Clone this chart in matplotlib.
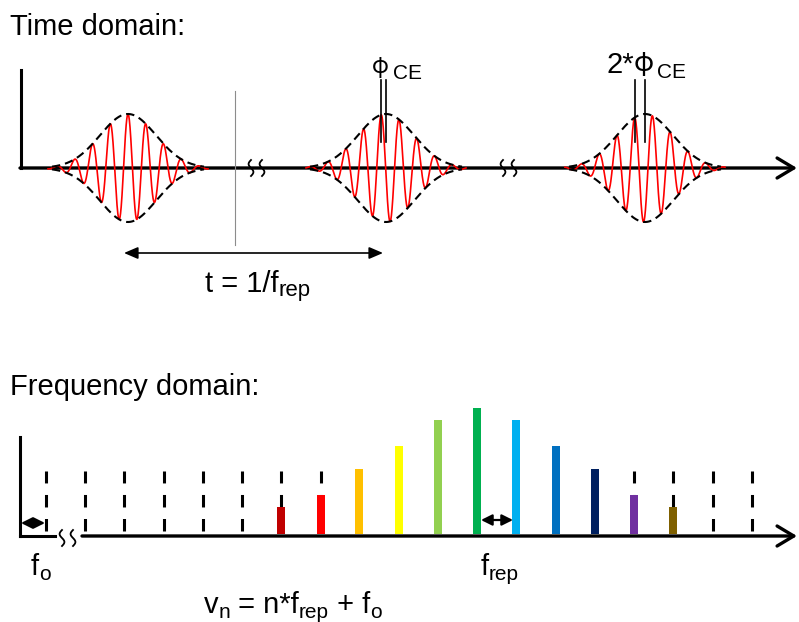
import numpy as np
import matplotlib.pyplot as plt

plt.rcParams['font.family'] = ['Liberation Sans', 'DejaVu Sans']
plt.rcParams['lines.scale_dashes'] = False

# time domain: pulse train
pulse_centers = [128, 386, 645]      # envelope centres
ce_shift = [0, -4.8, -10.4]          # carrier peak offset from envelope centre
pulse_amp = 54
pulse_sigma = 28
carrier_period = 17.8

# frequency domain: comb
comb_x = [46, 85, 124, 164, 203, 242, 281, 321, 359, 399, 438, 477, 516, 556, 595, 634, 673, 713, 752]
bar_x = [281, 321, 359, 399, 438, 477, 516, 556, 595, 634, 673]
bar_h = [27, 39, 65, 88, 114, 126, 114, 88, 65, 39, 27]
bar_colors = ['#C00000', '#FF0000', '#FFC000', '#FFFF00', '#92D050', '#00B050',
              '#00B0F0', '#0070C0', '#002060', '#7030A0', '#7F6000']

T_AXIS = 168
F_AXIS = 536

fig = plt.figure(figsize=(7.99, 6.22), dpi=100)
ax = fig.add_axes([0, 0, 1, 1])
ax.set_xlim(0, 799)
ax.set_ylim(622, 0)
ax.axis('off')


def squiggle(x0, y0, h=8, a=2.4):
    yy = np.linspace(-h, h, 60)
    ax.plot(x0 + a * np.sin(np.pi * yy / h), y0 + yy, color='k', lw=1.3, zorder=6)


def rich(x, y, parts, size=21, subsize=15, drop=4.5):
    r = fig.canvas.get_renderer()
    for s, sub in parts:
        t = ax.text(x, y + (drop if sub else 0), s, fontsize=subsize if sub else size,
                    va='baseline', ha='left')
        bb = t.get_window_extent(renderer=r)
        x = ax.transData.inverted().transform((bb.x1, bb.y0))[0]


def phi(x, y, size):
    ax.text(x, y, 'φ', fontsize=size, va='baseline', ha='left',
            family=['Noto Sans CJK SC', 'DejaVu Sans'])


# ---- time domain ----
ax.plot([21, 21], [70, T_AXIS], color='k', lw=2.2, solid_capstyle='projecting')
ax.annotate('', xy=(797, T_AXIS), xytext=(20, T_AXIS),
            arrowprops=dict(arrowstyle='->,head_length=0.6,head_width=0.36', mutation_scale=20,
                            lw=2.4, color='k', shrinkA=0, shrinkB=0), zorder=2)
ax.plot([235, 235], [91, 245], color='#8c8c8c', lw=0.8)

for c, s in zip(pulse_centers, ce_shift):
    xx = np.linspace(c - 80, c + 80, 1000)
    env = pulse_amp * np.exp(-(xx - c) ** 2 / (2 * pulse_sigma ** 2))
    ax.plot(xx, T_AXIS - env * np.cos(2 * np.pi * (xx - c - s) / carrier_period),
            color='red', lw=1.2, zorder=3)
    xe = np.linspace(c - 76, c + 76, 400)
    enve = pulse_amp * np.exp(-(xe - c) ** 2 / (2 * pulse_sigma ** 2))
    ax.plot(xe, T_AXIS - enve, color='k', lw=1.5, dashes=(6, 3.6), zorder=4)
    ax.plot(xe, T_AXIS + enve, color='k', lw=1.5, dashes=(6, 3.6), zorder=4)
    if s != 0:
        ax.plot([c + s, c + s], [80, 142], color='k', lw=1.2, zorder=5)
        ax.plot([c, c], [80, 142], color='k', lw=1.2, zorder=5)

for x0 in (251, 262, 503, 514):
    squiggle(x0, T_AXIS)

ax.annotate('', xy=(383, 253), xytext=(124, 253),
            arrowprops=dict(arrowstyle='<|-|>,head_length=0.7,head_width=0.3', mutation_scale=12,
                            lw=1.2, color='k', shrinkA=0, shrinkB=0))

ax.text(10, 35, 'Time domain:', fontsize=21, va='baseline')
rich(205, 291.5, [('t = 1/f', 0), ('rep', 1)], subsize=16)
phi(372, 72.5, 16)
ax.text(392.5, 79.3, 'CE', fontsize=15, va='baseline')
ax.text(607, 73.3, '2*', fontsize=21, va='baseline')
phi(634, 70.5, 19)
ax.text(656.5, 78.3, 'CE', fontsize=15, va='baseline')

# ---- frequency domain ----
ax.plot([20, 20], [437, F_AXIS], color='k', lw=2.2, solid_capstyle='projecting')
ax.plot([20, 55], [F_AXIS, F_AXIS], color='k', lw=2.2)
ax.annotate('', xy=(797, F_AXIS), xytext=(82, F_AXIS),
            arrowprops=dict(arrowstyle='->,head_length=0.6,head_width=0.36', mutation_scale=20,
                            lw=2.4, color='k', shrinkA=0, shrinkB=0), zorder=2)
squiggle(62, F_AXIS + 2)
squiggle(73, F_AXIS + 2)

for x0 in comb_x:
    ax.plot([x0, x0], [531, 471], color='k', lw=2.2, dashes=(9, 8.3), zorder=2)

ax.bar(bar_x, [-h for h in bar_h], bottom=F_AXIS - 2, width=8, color=bar_colors, zorder=3)

ax.annotate('', xy=(45, 523), xytext=(21, 523),
            arrowprops=dict(arrowstyle='<|-|>,head_length=0.6,head_width=0.3', mutation_scale=11,
                            lw=1.6, color='k', shrinkA=0, shrinkB=0), zorder=5)
ax.annotate('', xy=(513, 520), xytext=(481, 520),
            arrowprops=dict(arrowstyle='<|-|>,head_length=0.6,head_width=0.3', mutation_scale=11,
                            lw=1.6, color='k', shrinkA=0, shrinkB=0), zorder=5)

ax.text(10, 395, 'Frequency domain:', fontsize=21, va='baseline')
rich(31, 575, [('f', 0), ('o', 1)])
rich(481, 575, [('f', 0), ('rep', 1)])
rich(204, 613, [('v', 0), ('n', 1), (' = n*f', 0), ('rep', 1), (' + f', 0), ('o', 1)])

fig.savefig('out.png', dpi=100)
